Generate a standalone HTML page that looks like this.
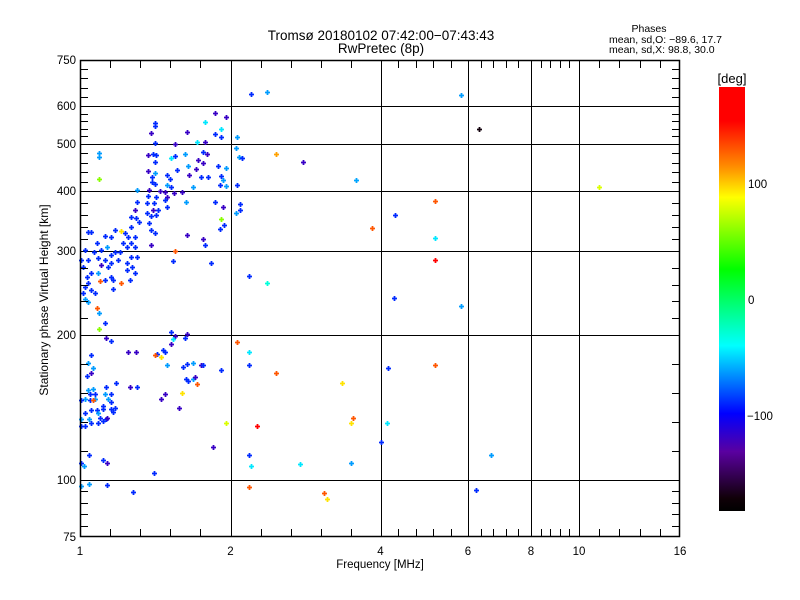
<!DOCTYPE html>
<html><head><meta charset="utf-8">
<style>
html,body{margin:0;padding:0;background:#fff;}
#wrap{position:relative;width:800px;height:600px;overflow:hidden;font-family:"Liberation Sans",sans-serif;}
svg text{font-family:"Liberation Sans",sans-serif;fill:#000;}
</style></head>
<body>
<div id="wrap">
<svg id="chart" width="800" height="600" viewBox="0 0 800 600">
<defs>
<linearGradient id="cbgrad" x1="0" y1="0" x2="0" y2="1">
<stop offset="0" stop-color="#ff0000"/>
<stop offset="0.08" stop-color="#ff0000"/>
<stop offset="0.19" stop-color="#ff9000"/>
<stop offset="0.26" stop-color="#ffff00"/>
<stop offset="0.43" stop-color="#00ff00"/>
<stop offset="0.61" stop-color="#00ffff"/>
<stop offset="0.77" stop-color="#0000ff"/>
<stop offset="0.86" stop-color="#5a00a0"/>
<stop offset="0.97" stop-color="#100008"/>
<stop offset="1" stop-color="#000000"/>
</linearGradient>
</defs>
<text x="381" y="40" font-size="13.5" text-anchor="middle">Tromsø 20180102 07:42:00−07:43:43</text>
<text x="381" y="53" font-size="13.5" text-anchor="middle">RwPretec (8p)</text>
<text x="649" y="32" font-size="10.5" text-anchor="middle">Phases</text>
<text x="609" y="43" font-size="10.5">mean, sd,O: −89.6, 17.7</text>
<text x="609" y="53" font-size="10.5">mean, sd,X:  98.8, 30.0</text>
<text transform="translate(48,300) rotate(-90)" font-size="12" text-anchor="middle">Stationary phase Virtual Height [km]</text>
<text x="380" y="568" font-size="11.5" text-anchor="middle">Frequency [MHz]</text>
<rect x="719" y="87" width="26" height="424" fill="url(#cbgrad)"/>
<text x="732" y="83" font-size="13" text-anchor="middle">[deg]</text>
<g id="grid"></g>
<g id="marks"></g>
<g id="axes"></g>
</svg>
</div>
<script>
// ---- data ----
const freqs = [1.90,1.967,1.50,1.50,1.833,1.473,1.713,1.94,1.90,1.94,
2.093,1.78,1.833,1.50,1.127,1.127,1.487,1.453,1.507,1.633,
1.607,1.633,1.70,1.82,1.847,1.787,1.82,1.50,1.72,1.647,
1.453,1.48,1.50,1.727,1.773,1.807,1.853,1.92,1.967,1.94,
2.067,2.107,2.147,1.127,1.58,1.60,1.48,1.50,1.58,1.607,
1.953,1.927,1.967,2.08,1.46,1.533,1.567,1.627,1.68,1.38,
1.753,1.453,1.507,1.58,1.567,1.38,1.447,1.493,1.707,1.90,
1.953,2.12,2.067,2.133,1.58,1.52,1.487,1.367,1.34,1.373,
1.447,1.473,1.507,1.393,1.34,1.273,1.46,1.473,1.50,1.94,
1.96,1.927,1.713,1.82,1.833,1.473,1.053,1.073,1.233,1.207,
1.167,1.30,1.32,1.367,1.287,1.34,1.313,1.367,1.113,1.18,
1.14,1.093,1.033,1.233,1.267,1.207,1.633,1.34,1.38,1.053,
1.12,1.167,1.207,1.253,1.007,1.02,1.14,1.187,1.313,1.347,
1.313,1.367,1.62,1.873,1.073,1.12,1.207,1.22,1.167,1.047,
1.053,1.033,1.133,1.273,1.333,1.073,1.10,1.22,1.02,1.033,
1.053,1.113,1.127,1.167,1.127,1.607,1.633,1.713,1.70,1.62,
1.173,1.207,1.607,1.32,1.373,1.513,1.553,1.567,1.50,1.54,
1.073,1.053,1.58,1.687,1.713,1.753,1.807,1.82,1.087,1.073,
1.047,1.94,1.707,1.72,1.753,1.767,1.78,1.24,1.333,1.38,
1.087,1.053,1.173,1.567,1.54,1.68,1.067,1.10,1.067,1.10,
1.033,1.007,1.167,1.207,1.187,1.207,1.087,1.153,1.153,1.233,
1.207,1.22,1.033,1.073,1.113,1.12,1.133,1.173,1.153,1.18,
1.007,1.06,1.073,1.033,1.007,1.12,1.66,1.967,1.887,1.06,
1.153,1.18,1.007,1.027,1.493,1.007,1.06,1.18,1.353,2.267,
2.493,5.84,6.35,2.973,2.613,3.667,5.24,3.88,4.34,5.24,
5.24,4.30,5.84,2.253,2.493,2.08,2.24,2.24,2.613,3.493,
4.16,5.24,3.627,3.60,4.14,2.347,4.02,2.253,2.267,2.92,
3.613,6.73,2.253,3.253,3.293,6.25,11.18];
const heights = [582,571,555,547,558,529,532,539,526,518,
518,505,505,503,481,472,479,477,477,500,
470,474,479,483,479,466,460,462,453,445,
443,430,438,434,447,430,430,453,449,432,
491,472,470,426,434,426,419,415,413,409,
423,413,411,413,402,400,398,397,398,402,
409,392,390,390,385,382,380,380,382,382,
373,378,363,368,373,368,368,368,357,355,
363,358,360,348,340,333,347,335,330,353,
343,337,327,320,310,310,332,332,335,323,
325,330,323,323,313,313,307,307,313,307,
302,299,302,299,299,295,300,293,293,289,
292,289,286,289,289,281,283,281,286,281,
277,274,288,286,274,274,269,265,265,269,
262,257,264,262,265,254,250,255,250,243,
239,232,226,214,207,204,199,201,198,197,
198,196,194,188,188,187,190,188,186,185,
186,181,179,178,180,181,179,179,177,174,
172,176,170,168,170,171,166,167,164,164,
163,162,164,159,156,160,159,159,155,156,
156,155,159,159,156,154,155,151,149,150,
149,147,146,148,148,146,143,142,141,143,
142,142,139,137,137,139,150,139,123,117,
114,112,112,110,105,97.4,98.2,97.8,94.7,639,
646,636,539,462,479,423,383,338,360,322,
289,244,235,270,262,195,188,179,174,167,
177,179,143,139,139,137,126,117,110,111,
112,117,96.9,94.3,91.7,95.6,409];
const phases = [-118,-118,-88,-88,-45,-118,-118,-45,-88,-88,
-62,-45,-118,-88,-62,-62,-88,-118,-88,-118,
-45,-88,-62,-88,-118,-118,-118,-88,-62,-88,
-118,-88,-62,-118,-118,-88,-88,-88,-62,-88,
-62,-62,-88,60,-88,-88,-88,-88,-62,-88,
-62,-88,-62,-88,-118,-118,-118,-118,-118,-62,
-62,-88,-88,-118,-88,-88,-88,-88,-62,-88,
-118,-88,-62,-88,-88,-88,-118,-118,-88,-88,
-88,-88,-88,-88,-88,95,-88,-88,-88,60,
-88,-88,-118,-118,-88,-118,-88,-88,-88,-88,
-88,-88,-88,-88,-88,-88,-88,-88,-88,-62,
-88,-88,-88,-88,-88,-88,130,-88,-88,-88,
-88,-88,-88,-88,-88,-88,-118,-88,-88,-88,
-88,-88,-88,-88,-88,-62,-88,-88,-88,-88,
-88,-88,130,130,-88,-88,-88,-88,-88,-62,
-62,130,-62,-88,60,-88,-118,-118,-88,-45,
-118,-88,-118,-118,-118,-88,-88,-88,130,95,
-88,-62,-62,-88,-88,-62,-118,-88,-62,-118,
-88,-88,-88,-88,-62,-118,130,-88,-118,-88,
-62,-62,-88,-118,-118,95,-88,-88,-88,-62,
-62,-88,-62,-88,-62,-88,130,-88,-88,-88,
-88,-88,-88,-88,-88,-62,-88,-88,-88,-118,
-62,-62,-88,-88,-88,-88,-118,80,-118,-88,
-88,-118,-88,-62,-88,-62,-62,-88,-88,-88,
-62,-62,-170,-118,110,-60,130,130,-88,-45,
165,-88,-62,-88,-30,130,-45,-88,130,95,
-88,130,130,95,-45,165,-88,-88,-45,-45,
-62,-62,130,130,95,-88,80];
const xMajorTicks = [1,2,4,6,8,10,16];
const xMinorTicks = [1.2,1.4,1.6,1.8,2.4,2.8,3.2,3.6,4.4,4.8,5.2,5.6,6.4,6.8,7.2,7.6,8.4,8.8,9.2,9.6,11.2,12.4,13.6,14.8];
const yMajorTicks = [75,100,200,300,400,500,600,750];
const yGridTicks = [100,200,300,400,500,600];
const yMinorTicks = [80,85,90,95,120,140,160,180,220,240,260,280,320,340,360,380,420,440,460,480,520,540,560,580,630,660,690,720];
const xGridTicks = [2,4,6,8,10];
const cbTicks = [100,0,-100];

// ---- scales (piecewise, as drawn by the original software) ----
const xKnotV=[1,2,4,6,8,10,16], xKnotP=[80,230.5,380.5,468,531,579,680];
const yKnotV=[75,100,200,300,400,500,600,750], yKnotP=[537,480,335,251,191,144,106,60];
function interp(v,kv,kp){
  for(let i=0;i<kv.length-1;i++){
    if(v<=kv[i+1]||i===kv.length-2){
      return kp[i]+(v-kv[i])*(kp[i+1]-kp[i])/(kv[i+1]-kv[i]);
    }
  }
}
function xs(v){return interp(v,xKnotV,xKnotP);}
function ys(v){return interp(v,yKnotV,yKnotP);}
function cbY(v){return 300-1.16*v;}
const cStops=[[87,[255,0,0]],[121,[255,0,0]],[168,[255,144,0]],[197,[255,255,0]],[269,[0,255,0]],[346,[0,255,255]],[413,[0,0,255]],[452,[90,0,160]],[498,[16,0,8]],[511,[0,0,0]]];
function color(v){
  const y=Math.max(87,Math.min(511,cbY(v)));
  for(let i=0;i<cStops.length-1;i++){
    const a=cStops[i],b=cStops[i+1];
    if(y<=b[0]){
      const t=(y-a[0])/(b[0]-a[0]);
      const c=a[1].map((q,j)=>Math.round(q+(b[1][j]-q)*t));
      return 'rgb('+c.join(',')+')';
    }
  }
  return '#000';
}
const NS='http://www.w3.org/2000/svg';
function mk(tag,attrs,parent){
  const e=document.createElementNS(NS,tag);
  for(const k in attrs)e.setAttribute(k,attrs[k]);
  parent.appendChild(e);return e;
}
const grid=document.getElementById('grid'),marks=document.getElementById('marks'),axes=document.getElementById('axes');
const L=80,R=680,T=60,B=537;

xGridTicks.forEach(v=>{
  const x=Math.round(xs(v))+0.5;
  const l=mk('line',{x1:x,y1:T,x2:x,y2:B,stroke:'#000','stroke-width':1},grid);
  
  
});
yGridTicks.forEach(v=>{
  const y=Math.round(ys(v))+0.5;
  const l=mk('line',{x1:L,y1:y,x2:R,y2:y,stroke:'#000','stroke-width':1},grid);
  
  
});

for(let i=0;i<freqs.length;i++){
  const x=Math.round(xs(freqs[i])),y=Math.round(ys(heights[i]));
  const p=mk('path',{d:'M'+(x-2)+' '+(y+0.5)+'h5M'+(x+0.5)+' '+(y-2)+'v5',stroke:color(phases[i]),'stroke-width':1.8,fill:'none'},marks);
  
  
}

const frame=mk('rect',{x:L+0.5,y:T+0.5,width:R-L-1,height:B-T-1,fill:'none',stroke:'#000','stroke-width':1.5},axes);



xMinorTicks.forEach(v=>{
  const x=Math.round(xs(v))+0.5;
  const t1=mk('line',{x1:x,y1:T,x2:x,y2:T+8,stroke:'#000','stroke-width':1},axes);
  
  
  const t2=mk('line',{x1:x,y1:B,x2:x,y2:B-8,stroke:'#000','stroke-width':1},axes);
  
  
});
yMinorTicks.forEach(v=>{
  const y=Math.round(ys(v))+0.5;
  const t1=mk('line',{x1:L,y1:y,x2:L+8,y2:y,stroke:'#000','stroke-width':1},axes);
  
  
  const t2=mk('line',{x1:R,y1:y,x2:R-8,y2:y,stroke:'#000','stroke-width':1},axes);
  
  
});
xMajorTicks.forEach(v=>{
  const t=mk('text',{x:xs(v),y:555,'font-size':11.5,'text-anchor':'middle'},axes);
  t.textContent=String(v);
  
  
});
yMajorTicks.forEach(v=>{
  const t=mk('text',{x:76,y:ys(v)+4,'font-size':11.5,'text-anchor':'end'},axes);
  t.textContent=String(v);
  
  
});
cbTicks.forEach(v=>{
  const t=mk('text',{x:v<0?747:748,y:cbY(v)+4,'font-size':11.5},axes);
  t.textContent=v<0?'−'+Math.abs(v):String(v);
  
  
});
</script>
</body></html>
